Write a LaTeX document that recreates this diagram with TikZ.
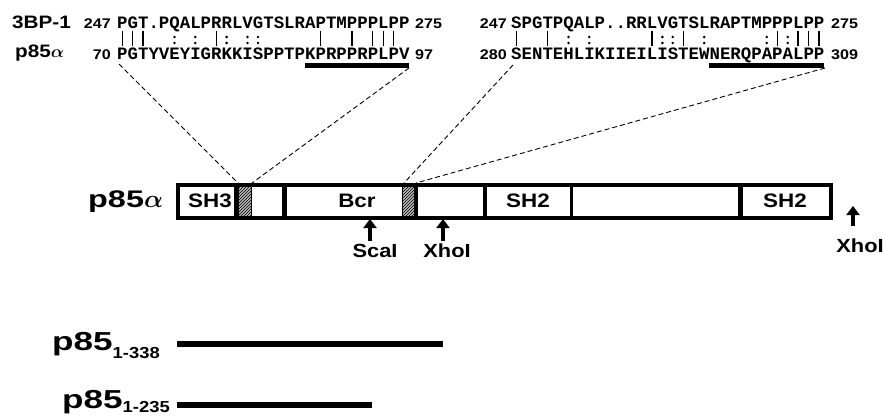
\documentclass[tikz,border=0pt]{standalone}
\usepackage{fontspec}
\setmainfont{Liberation Sans}[FakeStretch=1.15]
\newfontfamily\widesans{Liberation Sans}[FakeStretch=1.35]
\newfontfamily\seqfont{Liberation Mono}
\usetikzlibrary{patterns,arrows.meta}

\newcommand{\fsz}[1]{\fontsize{#1}{#1}\selectfont}

\tikzset{
  seqtag/.style={font=\bfseries\fsz{18}, inner sep=0pt, anchor=base west},
  resnum/.style={font=\bfseries\fsz{14}, inner sep=0pt},
  seqtxt/.style={font=\seqfont\bfseries\fsz{17.4}, inner sep=0pt, anchor=base west},
  dlabel/.style={font=\bfseries\fsz{19.5}, inner sep=0pt},
  site/.style={-{Triangle[length=9pt,width=13pt]}, line width=4.5pt},
  sitelbl/.style={font=\bfseries\fsz{19}, inner sep=0pt, anchor=base},
  zoomline/.style={dash pattern=on 5pt off 3pt, line width=0.9pt},
  hatch/.style={fill=gray!55, postaction={pattern=north east lines}},
  construct/.style={line width=6pt},
  bigtag/.style={font=\widesans\bfseries\fsz{#1}, inner sep=0pt, anchor=base west},
}

\begin{document}
\begin{tikzpicture}[x=1pt, y=-1pt]
    \useasboundingbox (0,0) rectangle (883,415);

    % Alignment 1: 3BP-1 vs p85alpha 70-97
    \begin{scope}
        \node[seqtag] (bpA) at (12,28) {3BP-1};
        \node[seqtag] (paA) at (15,57) {p85{\boldmath$\alpha$}};
        \node[resnum, anchor=base east] (nA1) at (111,28) {247};
        \node[resnum, anchor=base east] (nA2) at (111,59) {70};
        \node[seqtxt] (sA1) at (117,28) {PGT.PQALPRRLVGTSLRAPTMPPPLPP};
        \node[seqtxt] (sA2) at (117,59) {PGTYVEYIGRKKISPPTPKPRPPRPLPV};
        \node[resnum, anchor=base west] (nA3) at (415,28) {275};
        \node[resnum, anchor=base west] (nA4) at (415,59) {97};

        % identities and similarities
        \foreach \c in {0,1,2,9,19,22,24,25,26}
            \draw[line width=1.3pt] ({117+10.44*(\c+0.5)},31) -- ++(0,15);
        \foreach \c in {5,7,10,12,13} {
            \fill ({117+10.44*(\c+0.5)},37) circle (1.4pt);
            \fill ({117+10.44*(\c+0.5)},43) circle (1.4pt);
        }

        \draw[line width=5pt] ({117+10.44*18},65.5) -- ({117+10.44*28},65.5);
    \end{scope}

    % Alignment 2: 3BP-1 vs p85alpha 280-309
    \begin{scope}
        \node[resnum, anchor=base east] (nB1) at (507,28) {247};
        \node[resnum, anchor=base east] (nB2) at (507,59) {280};
        \node[seqtxt] (sB1) at (511,28) {SPGTPQALP..RRLVGTSLRAPTMPPPLPP};
        \node[seqtxt] (sB2) at (511,59) {SENTEHLIKIIEILISTEWNERQPAPALPP};
        \node[resnum, anchor=base west] (nB3) at (831,28) {275};
        \node[resnum, anchor=base west] (nB4) at (831,59) {309};

        \foreach \c in {0,3,13,16,25,27,28,29}
            \draw[line width=1.3pt] ({511+10.44*(\c+0.5)},31) -- ++(0,15);
        \foreach \c in {5,7,14,15,18,24,26} {
            \fill ({511+10.44*(\c+0.5)},37) circle (1.4pt);
            \fill ({511+10.44*(\c+0.5)},43) circle (1.4pt);
        }

        \draw[line width=5pt] ({511+10.44*19},65.5) -- ({511+10.44*30},65.5);
    \end{scope}

    % p85alpha domain map
    \node[bigtag=24] (p85) at (88,207) {p85{\boldmath$\alpha$}};
    \fill[hatch] (239,187) rectangle (251,216);
    \fill[hatch] (403,187) rectangle (414,216);
    \draw[line width=4pt] (178,185) rectangle (831,218);
    \foreach \x/\w in {236.5/5, 251.5/1.5, 284/5, 402.5/1.2, 416/3.5, 484.5/4, 571.7/3, 740.5/4.5}
        \draw[line width=\w pt] (\x,185) -- (\x,218);

    \node[dlabel] (sh3) at (210,200.5) {SH3};
    \node[dlabel] (bcr) at (357,200.5) {Bcr};
    \node[dlabel] (sh2a) at (528,200.5) {SH2};
    \node[dlabel] (sh2b) at (785,200.5) {SH2};

    % zoom lines to the sequences
    \coordinate (zA1) at (119,64);
    \coordinate (zA2) at (409,68);
    \coordinate (zB1) at (513,65);
    \coordinate (zB2) at (825,68);
    \coordinate (hA1) at (238,183);
    \coordinate (hA2) at (252,183);
    \coordinate (hB1) at (404,183);
    \coordinate (hB2) at (416,183);
    \draw[zoomline] (zA1) -- (hA1);
    \draw[zoomline] (zA2) -- (hA2);
    \draw[zoomline] (zB1) -- (hB1);
    \draw[zoomline] (zB2) -- (hB2);

    % restriction sites
    \coordinate (scaT) at (370,219);
    \coordinate (scaB) at (370,241);
    \coordinate (xhoT) at (443,219);
    \coordinate (xhoB) at (443,241);
    \coordinate (xhoRT) at (853,206);
    \coordinate (xhoRB) at (853,226);
    \draw[site] (scaB) -- (scaT);
    \draw[site] (xhoB) -- (xhoT);
    \draw[site] (xhoRB) -- (xhoRT);
    \node[sitelbl] (scaI) at (375,257) {ScaI};
    \node[sitelbl] (xhoI) at (447,257) {XhoI};
    \node[sitelbl] (xhoIR) at (860,252) {XhoI};

    % truncated constructs
    \node[bigtag=26] (c338) at (52,350) {p85\raisebox{-8pt}{\rmfamily\bfseries\fsz{16}1-338}};
    \coordinate (c338a) at (177,343.5);
    \coordinate (c338b) at (443,343.5);
    \draw[construct] (c338a) -- (c338b);

    \node[bigtag=26] (c235) at (62,408) {p85\raisebox{-4pt}{\rmfamily\bfseries\fsz{16}1-235}};
    \coordinate (c235a) at (177,405);
    \coordinate (c235b) at (372,405);
    \draw[construct] (c235a) -- (c235b);
\end{tikzpicture}
\end{document}
